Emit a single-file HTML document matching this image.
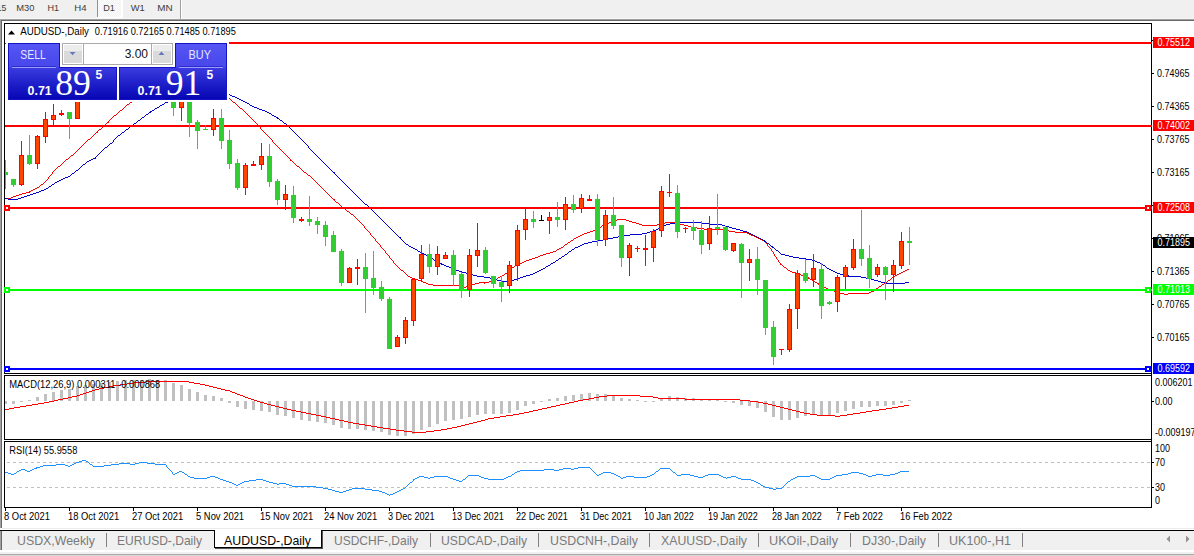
<!DOCTYPE html>
<html lang="en"><head><meta charset="utf-8"><title>AUDUSD-,Daily</title>
<style>
html,body{margin:0;padding:0;background:#fff;overflow:hidden}
body{width:1194px;height:556px;position:relative;font-family:"Liberation Sans", sans-serif;}
svg{position:absolute;left:0;top:0;display:block;font-family:"Liberation Sans", sans-serif;}
</style></head><body>
<svg width="1194" height="556" viewBox="0 0 1194 556" shape-rendering="crispEdges">
<defs>
<clipPath id="cm"><rect x="5" y="24" width="1146" height="349"/></clipPath>
<clipPath id="cd"><rect x="5" y="376" width="1146" height="63"/></clipPath>
<clipPath id="cr"><rect x="5" y="442" width="1146" height="65"/></clipPath>
<linearGradient id="gb" x1="0" y1="0" x2="0" y2="1"><stop offset="0" stop-color="#3a3ae0"/><stop offset="1" stop-color="#0606b4"/></linearGradient>
<linearGradient id="gt" x1="0" y1="0" x2="0" y2="1"><stop offset="0" stop-color="#5656f6"/><stop offset="1" stop-color="#4646ea"/></linearGradient>
<linearGradient id="gs" x1="0" y1="0" x2="0" y2="1"><stop offset="0" stop-color="#f4f4f4"/><stop offset="0.5" stop-color="#dcdcdc"/><stop offset="1" stop-color="#cfcfcf"/></linearGradient>
<pattern id="chk" width="2" height="2" patternUnits="userSpaceOnUse"><rect width="2" height="2" fill="#f0f0f0"/><rect width="1" height="1" fill="#fff"/><rect x="1" y="1" width="1" height="1" fill="#fff"/></pattern>
</defs>
<g id="chrome">
<rect x="0" y="0" width="1194" height="19" fill="#f0f0f0"/>
<rect x="0" y="18" width="1194" height="1" fill="#f6f6f6"/>
<rect x="98" y="0" width="23" height="17" fill="url(#chk)"/>
<rect x="121" y="0" width="2" height="18" fill="#fff"/>
<rect x="97" y="17" width="26" height="1" fill="#fff"/>
<rect x="97" y="0" width="1" height="17" fill="#929292"/>
<rect x="180" y="0" width="1" height="19" fill="#a0a0a0"/>
<rect x="181" y="0" width="1" height="19" fill="#ffffff"/>
<rect x="0" y="19" width="1194" height="1" fill="#a0a0a0"/>
<rect x="0" y="20" width="1194" height="1" fill="#696969"/>
<rect x="0" y="19" width="1" height="531" fill="#a0a0a0"/>
<rect x="1" y="20" width="1" height="530" fill="#696969"/>
<rect x="2" y="528" width="1192" height="1" fill="#ececec"/>
<rect x="2" y="531" width="1192" height="19" fill="#f0f0f0"/>
<rect x="0" y="550" width="1194" height="2" fill="#ffffff"/>
<rect x="0" y="552" width="1194" height="2" fill="#f0f0f0"/>
<rect x="0" y="554" width="1194" height="1" fill="#aaaaaa"/>
<rect x="0" y="555" width="1194" height="1" fill="#d8d8d8"/>
<rect x="0" y="528" width="2" height="2" fill="#fff"/>
<rect x="0" y="530" width="1194" height="1" fill="#000"/>
<rect x="214" y="529" width="108" height="19" fill="#ffffff"/>
<rect x="214" y="530" width="1" height="18" fill="#000"/>
<rect x="321" y="530" width="1" height="18" fill="#000"/>
<rect x="322" y="531" width="1" height="18" fill="#555"/>
<rect x="214" y="547" width="108" height="1" fill="#000"/>
<rect x="215" y="548" width="108" height="1" fill="#555"/>
</g>
<g id="toolbar-text" shape-rendering="auto">
<text x="6.3" y="10.7" font-size="9.6" fill="#3c3c3c" textLength="9.6" lengthAdjust="spacingAndGlyphs" text-anchor="end">15</text>
<text x="16.2" y="10.7" font-size="9.6" fill="#3c3c3c" textLength="18.2" lengthAdjust="spacingAndGlyphs">M30</text>
<text x="47.4" y="10.7" font-size="9.6" fill="#3c3c3c" textLength="11.6" lengthAdjust="spacingAndGlyphs">H1</text>
<text x="74.3" y="10.7" font-size="9.6" fill="#3c3c3c" textLength="12.3" lengthAdjust="spacingAndGlyphs">H4</text>
<text x="103.3" y="10.7" font-size="9.6" fill="#3c3c3c" textLength="11.6" lengthAdjust="spacingAndGlyphs">D1</text>
<text x="130.8" y="10.7" font-size="9.6" fill="#3c3c3c" textLength="14" lengthAdjust="spacingAndGlyphs">W1</text>
<text x="157.2" y="10.7" font-size="9.6" fill="#3c3c3c" textLength="15.4" lengthAdjust="spacingAndGlyphs">MN</text>
</g>
<g id="tabs" shape-rendering="auto">
<text x="17" y="545" font-size="13" fill="#7a7a7a" textLength="78" lengthAdjust="spacingAndGlyphs">USDX,Weekly</text>
<text x="117" y="545" font-size="13" fill="#7a7a7a" textLength="85" lengthAdjust="spacingAndGlyphs">EURUSD-,Daily</text>
<text x="334" y="545" font-size="13" fill="#7a7a7a" textLength="84" lengthAdjust="spacingAndGlyphs">USDCHF-,Daily</text>
<text x="441" y="545" font-size="13" fill="#7a7a7a" textLength="86" lengthAdjust="spacingAndGlyphs">USDCAD-,Daily</text>
<text x="550" y="545" font-size="13" fill="#7a7a7a" textLength="88" lengthAdjust="spacingAndGlyphs">USDCNH-,Daily</text>
<text x="661" y="545" font-size="13" fill="#7a7a7a" textLength="86" lengthAdjust="spacingAndGlyphs">XAUUSD-,Daily</text>
<text x="769" y="545" font-size="13" fill="#7a7a7a" textLength="69" lengthAdjust="spacingAndGlyphs">UKOil-,Daily</text>
<text x="862" y="545" font-size="13" fill="#7a7a7a" textLength="64" lengthAdjust="spacingAndGlyphs">DJ30-,Daily</text>
<text x="949" y="545" font-size="13" fill="#7a7a7a" textLength="62" lengthAdjust="spacingAndGlyphs">UK100-,H1</text>
<text x="224" y="545" font-size="13" fill="#000" textLength="87" lengthAdjust="spacingAndGlyphs">AUDUSD-,Daily</text>
</g>
<rect x="106" y="533" width="1" height="14" fill="#808080"/>
<rect x="430" y="533" width="1" height="14" fill="#808080"/>
<rect x="538" y="533" width="1" height="14" fill="#808080"/>
<rect x="649" y="533" width="1" height="14" fill="#808080"/>
<rect x="758" y="533" width="1" height="14" fill="#808080"/>
<rect x="850" y="533" width="1" height="14" fill="#808080"/>
<rect x="938" y="533" width="1" height="14" fill="#808080"/>
<rect x="1022" y="533" width="1" height="14" fill="#808080"/>
<path d="M1170 535.5 L1170 542.5 L1166.5 539 Z" fill="#909090" shape-rendering="auto"/>
<path d="M1186 535.5 L1186 542.5 L1189.5 539 Z" fill="#909090" shape-rendering="auto"/>
<g id="frames">
<rect x="4" y="23" width="1148" height="1" fill="#000"/>
<rect x="4" y="373" width="1148" height="1" fill="#000"/>
<rect x="4" y="23" width="1" height="351" fill="#000"/>
<rect x="1151" y="23" width="1" height="351" fill="#000"/>
<rect x="4" y="375" width="1148" height="1" fill="#000"/>
<rect x="4" y="439" width="1148" height="1" fill="#000"/>
<rect x="4" y="375" width="1" height="65" fill="#000"/>
<rect x="1151" y="375" width="1" height="65" fill="#000"/>
<rect x="4" y="441" width="1148" height="1" fill="#000"/>
<rect x="4" y="507" width="1148" height="1" fill="#000"/>
<rect x="4" y="441" width="1" height="67" fill="#000"/>
<rect x="1151" y="441" width="1" height="67" fill="#000"/>
<rect x="1151" y="373" width="1" height="3" fill="#000"/>
<rect x="1151" y="439" width="1" height="3" fill="#000"/>
</g>
<g id="main" clip-path="url(#cm)">
<path d="M186 72h6v1h-6zM183 73h3v1h-3zM192 73h3v1h-3zM179 74h4v1h-4zM195 74h2v1h-2zM175 75h4v1h-4zM197 75h3v1h-3zM171 76h4v1h-4zM200 76h2v1h-2zM168 77h3v1h-3zM202 77h3v1h-3zM164 78h4v1h-4zM205 78h2v1h-2zM160 79h4v1h-4zM207 79h3v1h-3zM159 80h2v1h-2zM210 80h1v1h-1zM157 81h2v1h-2zM211 81h1v1h-1zM156 82h1v1h-1zM212 82h1v1h-1zM154 83h2v1h-2zM213 83h1v1h-1zM153 84h1v1h-1zM214 84h1v1h-1zM151 85h2v1h-2zM215 85h1v1h-1zM150 86h1v1h-1zM216 86h1v1h-1zM149 87h1v1h-1zM217 87h1v1h-1zM147 88h2v1h-2zM218 88h1v1h-1zM146 89h1v1h-1zM219 89h1v1h-1zM144 90h2v1h-2zM220 90h1v1h-1zM143 91h1v1h-1zM221 91h1v1h-1zM141 92h2v1h-2zM222 92h1v1h-1zM140 93h1v1h-1zM223 93h1v1h-1zM139 94h2v1h-2zM224 94h1v1h-1zM138 95h1v1h-1zM225 95h2v1h-2zM137 96h1v1h-1zM227 96h1v1h-1zM136 97h1v1h-1zM228 97h1v1h-1zM134 98h2v1h-2zM229 98h1v1h-1zM133 99h1v1h-1zM230 99h1v1h-1zM132 100h1v1h-1zM231 100h1v1h-1zM131 101h1v1h-1zM232 101h1v1h-1zM130 102h2v1h-2zM233 102h2v1h-2zM129 103h1v1h-1zM235 103h1v1h-1zM127 104h2v1h-2zM236 104h1v1h-1zM126 105h1v1h-1zM237 105h1v1h-1zM125 106h1v1h-1zM238 106h1v1h-1zM124 107h1v1h-1zM239 107h1v1h-1zM123 108h1v1h-1zM240 108h2v1h-2zM122 109h1v1h-1zM242 109h1v1h-1zM120 110h2v1h-2zM243 110h1v1h-1zM119 111h1v1h-1zM244 111h1v1h-1zM118 112h1v1h-1zM245 112h1v1h-1zM117 113h1v1h-1zM246 113h1v1h-1zM116 114h1v1h-1zM247 114h1v1h-1zM114 115h2v1h-2zM248 115h1v1h-1zM113 116h1v1h-1zM249 116h1v1h-1zM112 117h1v1h-1zM250 117h1v1h-1zM111 118h1v1h-1zM251 118h1v1h-1zM110 119h1v1h-1zM252 119h1v1h-1zM109 120h1v1h-1zM253 120h1v1h-1zM108 121h1v1h-1zM254 121h1v1h-1zM107 122h2v1h-2zM255 122h1v1h-1zM106 123h1v1h-1zM256 123h1v1h-1zM105 124h1v1h-1zM257 124h1v1h-1zM104 125h1v1h-1zM258 125h1v1h-1zM103 126h1v1h-1zM259 126h1v1h-1zM102 127h1v1h-1zM260 127h1v1h-1zM101 128h1v1h-1zM260 128h1v1h-1zM99 129h2v1h-2zM261 129h1v1h-1zM98 130h1v1h-1zM262 130h1v1h-1zM97 131h1v1h-1zM263 131h1v1h-1zM96 132h2v1h-2zM264 132h1v1h-1zM95 133h1v1h-1zM265 133h1v1h-1zM94 134h1v1h-1zM266 134h1v1h-1zM93 135h1v1h-1zM267 135h1v1h-1zM92 136h1v1h-1zM268 136h1v1h-1zM91 137h1v1h-1zM269 137h1v1h-1zM90 138h1v1h-1zM270 138h1v1h-1zM88 139h2v1h-2zM271 139h1v1h-1zM87 140h1v1h-1zM272 140h1v1h-1zM86 141h1v1h-1zM272 141h1v1h-1zM85 142h1v1h-1zM273 142h1v1h-1zM84 143h1v1h-1zM274 143h1v1h-1zM83 144h1v1h-1zM275 144h1v1h-1zM82 145h1v1h-1zM276 145h1v1h-1zM81 146h1v1h-1zM277 146h1v1h-1zM80 147h1v1h-1zM278 147h1v1h-1zM79 148h1v1h-1zM279 148h1v1h-1zM78 149h1v1h-1zM280 149h1v1h-1zM77 150h1v1h-1zM281 150h1v1h-1zM76 151h1v1h-1zM282 151h1v1h-1zM75 152h1v1h-1zM283 152h1v1h-1zM74 153h1v1h-1zM284 153h1v1h-1zM73 154h1v1h-1zM285 154h1v1h-1zM71 155h2v1h-2zM286 155h1v1h-1zM70 156h1v1h-1zM287 156h1v1h-1zM69 157h1v1h-1zM288 157h1v1h-1zM68 158h1v1h-1zM289 158h1v1h-1zM66 159h2v1h-2zM290 159h1v1h-1zM65 160h1v1h-1zM290 160h2v1h-2zM64 161h1v1h-1zM292 161h1v1h-1zM63 162h1v1h-1zM293 162h1v1h-1zM62 163h1v1h-1zM294 163h1v1h-1zM61 164h1v1h-1zM295 164h1v1h-1zM60 165h1v1h-1zM296 165h1v1h-1zM58 166h2v1h-2zM297 166h2v1h-2zM57 167h1v1h-1zM299 167h1v1h-1zM56 168h1v1h-1zM300 168h1v1h-1zM55 169h1v1h-1zM301 169h1v1h-1zM54 170h1v1h-1zM302 170h1v1h-1zM53 171h1v1h-1zM303 171h1v1h-1zM52 172h1v1h-1zM304 172h2v1h-2zM52 173h1v1h-1zM306 173h1v1h-1zM51 174h1v1h-1zM307 174h1v1h-1zM50 175h1v1h-1zM308 175h2v1h-2zM49 176h1v1h-1zM310 176h1v1h-1zM48 177h1v1h-1zM311 177h1v1h-1zM48 178h1v1h-1zM312 178h1v1h-1zM47 179h1v1h-1zM313 179h1v1h-1zM46 180h1v1h-1zM314 180h1v1h-1zM45 181h1v1h-1zM315 181h1v1h-1zM44 182h1v1h-1zM316 182h1v1h-1zM43 183h1v1h-1zM317 183h1v1h-1zM41 184h2v1h-2zM318 184h1v1h-1zM40 185h1v1h-1zM319 185h1v1h-1zM39 186h1v1h-1zM320 186h1v1h-1zM37 187h2v1h-2zM321 187h1v1h-1zM35 188h2v1h-2zM322 188h1v1h-1zM33 189h2v1h-2zM323 189h1v1h-1zM31 190h2v1h-2zM324 190h1v1h-1zM29 191h2v1h-2zM325 191h1v1h-1zM26 192h4v1h-4zM326 192h1v1h-1zM22 193h4v1h-4zM327 193h1v1h-1zM19 194h3v1h-3zM328 194h1v1h-1zM16 195h3v1h-3zM329 195h1v1h-1zM13 196h3v1h-3zM330 196h1v1h-1zM11 197h2v1h-2zM331 197h1v1h-1zM5 198h6v1h-6zM332 198h1v1h-1zM333 199h2v1h-2zM334 200h1v1h-1zM335 201h1v1h-1zM336 202h2v1h-2zM338 203h1v1h-1zM339 204h1v1h-1zM340 205h1v1h-1zM341 206h1v1h-1zM342 207h1v1h-1zM343 208h2v1h-2zM345 209h1v1h-1zM346 210h1v1h-1zM347 211h2v1h-2zM349 212h1v1h-1zM350 213h1v1h-1zM351 214h2v1h-2zM353 215h1v1h-1zM354 216h1v1h-1zM355 217h1v1h-1zM356 218h1v1h-1zM357 219h1v1h-1zM617 219h9v1h-9zM358 220h1v1h-1zM614 220h3v1h-3zM626 220h3v1h-3zM359 221h1v1h-1zM612 221h2v1h-2zM629 221h3v1h-3zM360 222h1v1h-1zM609 222h3v1h-3zM632 222h4v1h-4zM665 222h10v1h-10zM361 223h1v1h-1zM607 223h2v1h-2zM636 223h3v1h-3zM661 223h4v1h-4zM675 223h5v1h-5zM362 224h1v1h-1zM605 224h2v1h-2zM639 224h3v1h-3zM657 224h4v1h-4zM680 224h4v1h-4zM363 225h1v1h-1zM602 225h3v1h-3zM642 225h15v1h-15zM684 225h4v1h-4zM364 226h1v1h-1zM601 226h1v1h-1zM688 226h3v1h-3zM364 227h1v1h-1zM599 227h2v1h-2zM691 227h6v1h-6zM365 228h1v1h-1zM597 228h2v1h-2zM697 228h7v1h-7zM366 229h1v1h-1zM595 229h2v1h-2zM704 229h21v1h-21zM367 230h1v1h-1zM593 230h2v1h-2zM725 230h4v1h-4zM368 231h1v1h-1zM590 231h3v1h-3zM729 231h6v1h-6zM369 232h1v1h-1zM587 232h3v1h-3zM735 232h12v1h-12zM370 233h1v1h-1zM584 233h3v1h-3zM747 233h2v1h-2zM370 234h1v1h-1zM582 234h2v1h-2zM749 234h2v1h-2zM371 235h1v1h-1zM580 235h2v1h-2zM751 235h3v1h-3zM372 236h1v1h-1zM578 236h2v1h-2zM754 236h2v1h-2zM373 237h1v1h-1zM576 237h2v1h-2zM756 237h2v1h-2zM374 238h1v1h-1zM574 238h2v1h-2zM758 238h2v1h-2zM375 239h1v1h-1zM573 239h1v1h-1zM760 239h2v1h-2zM375 240h1v1h-1zM571 240h2v1h-2zM762 240h3v1h-3zM376 241h1v1h-1zM570 241h1v1h-1zM764 241h1v1h-1zM377 242h1v1h-1zM568 242h2v1h-2zM765 242h1v1h-1zM378 243h1v1h-1zM567 243h1v1h-1zM766 243h1v1h-1zM379 244h1v1h-1zM565 244h2v1h-2zM767 244h1v1h-1zM380 245h1v1h-1zM564 245h1v1h-1zM767 245h1v1h-1zM380 246h1v1h-1zM563 246h1v1h-1zM768 246h1v1h-1zM381 247h1v1h-1zM561 247h2v1h-2zM769 247h1v1h-1zM382 248h1v1h-1zM559 248h2v1h-2zM770 248h1v1h-1zM383 249h1v1h-1zM557 249h2v1h-2zM771 249h1v1h-1zM384 250h1v1h-1zM556 250h1v1h-1zM771 250h1v1h-1zM385 251h1v1h-1zM553 251h3v1h-3zM772 251h1v1h-1zM385 252h1v1h-1zM550 252h3v1h-3zM773 252h1v1h-1zM386 253h1v1h-1zM546 253h4v1h-4zM773 253h1v1h-1zM387 254h1v1h-1zM543 254h3v1h-3zM774 254h1v1h-1zM388 255h1v1h-1zM540 255h3v1h-3zM774 255h1v1h-1zM389 256h1v1h-1zM538 256h2v1h-2zM775 256h1v1h-1zM389 257h1v1h-1zM535 257h3v1h-3zM776 257h1v1h-1zM390 258h1v1h-1zM532 258h3v1h-3zM776 258h1v1h-1zM391 259h1v1h-1zM529 259h3v1h-3zM777 259h1v1h-1zM392 260h1v1h-1zM526 260h3v1h-3zM778 260h1v1h-1zM393 261h1v1h-1zM524 261h2v1h-2zM778 261h1v1h-1zM393 262h1v1h-1zM522 262h2v1h-2zM779 262h1v1h-1zM394 263h1v1h-1zM519 263h3v1h-3zM780 263h1v1h-1zM395 264h1v1h-1zM517 264h2v1h-2zM780 264h2v1h-2zM396 265h1v1h-1zM515 265h2v1h-2zM782 265h1v1h-1zM397 266h1v1h-1zM514 266h1v1h-1zM783 266h1v1h-1zM398 267h1v1h-1zM512 267h2v1h-2zM784 267h2v1h-2zM399 268h1v1h-1zM511 268h1v1h-1zM786 268h1v1h-1zM400 269h1v1h-1zM510 269h1v1h-1zM787 269h1v1h-1zM907 269h2v1h-2zM401 270h2v1h-2zM509 270h1v1h-1zM788 270h2v1h-2zM905 270h2v1h-2zM403 271h1v1h-1zM508 271h1v1h-1zM790 271h2v1h-2zM903 271h2v1h-2zM404 272h1v1h-1zM507 272h1v1h-1zM792 272h4v1h-4zM901 272h2v1h-2zM405 273h1v1h-1zM505 273h2v1h-2zM796 273h3v1h-3zM899 273h2v1h-2zM406 274h1v1h-1zM504 274h1v1h-1zM799 274h2v1h-2zM897 274h2v1h-2zM407 275h1v1h-1zM502 275h2v1h-2zM801 275h3v1h-3zM895 275h2v1h-2zM408 276h2v1h-2zM500 276h2v1h-2zM804 276h2v1h-2zM893 276h2v1h-2zM410 277h2v1h-2zM498 277h2v1h-2zM806 277h3v1h-3zM892 277h1v1h-1zM412 278h3v1h-3zM497 278h1v1h-1zM808 278h2v1h-2zM891 278h1v1h-1zM414 279h4v1h-4zM494 279h3v1h-3zM810 279h2v1h-2zM890 279h1v1h-1zM418 280h3v1h-3zM492 280h2v1h-2zM812 280h1v1h-1zM888 280h2v1h-2zM421 281h2v1h-2zM489 281h3v1h-3zM813 281h2v1h-2zM887 281h1v1h-1zM423 282h3v1h-3zM479 282h10v1h-10zM815 282h2v1h-2zM885 282h2v1h-2zM426 283h2v1h-2zM475 283h4v1h-4zM484 283h1v1h-1zM817 283h2v1h-2zM884 283h1v1h-1zM428 284h5v1h-5zM472 284h3v1h-3zM818 284h2v1h-2zM882 284h2v1h-2zM433 285h26v1h-26zM469 285h3v1h-3zM820 285h2v1h-2zM881 285h1v1h-1zM459 286h5v1h-5zM466 286h3v1h-3zM822 286h2v1h-2zM879 286h2v1h-2zM464 287h2v1h-2zM824 287h2v1h-2zM878 287h1v1h-1zM826 288h2v1h-2zM876 288h2v1h-2zM828 289h3v1h-3zM875 289h1v1h-1zM831 290h3v1h-3zM873 290h2v1h-2zM834 291h2v1h-2zM871 291h3v1h-3zM836 292h3v1h-3zM869 292h2v1h-2zM839 293h5v1h-5zM848 293h21v1h-21zM844 294h4v1h-4z" fill="#ff0000"/>
<path d="M197 88h18v1h-18zM193 89h4v1h-4zM215 89h3v1h-3zM190 90h3v1h-3zM218 90h2v1h-2zM187 91h3v1h-3zM220 91h3v1h-3zM183 92h4v1h-4zM223 92h2v1h-2zM180 93h3v1h-3zM225 93h3v1h-3zM178 94h3v1h-3zM228 94h2v1h-2zM177 95h1v1h-1zM230 95h2v1h-2zM175 96h2v1h-2zM232 96h3v1h-3zM174 97h1v1h-1zM235 97h2v1h-2zM172 98h2v1h-2zM237 98h2v1h-2zM170 99h2v1h-2zM239 99h2v1h-2zM169 100h1v1h-1zM241 100h2v1h-2zM167 101h2v1h-2zM243 101h2v1h-2zM165 102h3v1h-3zM245 102h2v1h-2zM164 103h1v1h-1zM247 103h2v1h-2zM162 104h2v1h-2zM249 104h1v1h-1zM160 105h2v1h-2zM250 105h2v1h-2zM159 106h1v1h-1zM252 106h2v1h-2zM157 107h2v1h-2zM254 107h3v1h-3zM155 108h2v1h-2zM257 108h2v1h-2zM154 109h1v1h-1zM259 109h3v1h-3zM152 110h2v1h-2zM262 110h3v1h-3zM150 111h2v1h-2zM265 111h2v1h-2zM149 112h2v1h-2zM267 112h2v1h-2zM148 113h1v1h-1zM269 113h2v1h-2zM146 114h2v1h-2zM271 114h1v1h-1zM145 115h1v1h-1zM272 115h2v1h-2zM144 116h1v1h-1zM274 116h2v1h-2zM142 117h2v1h-2zM276 117h2v1h-2zM141 118h1v1h-1zM277 118h2v1h-2zM140 119h1v1h-1zM279 119h1v1h-1zM138 120h2v1h-2zM280 120h2v1h-2zM137 121h1v1h-1zM282 121h1v1h-1zM136 122h1v1h-1zM283 122h1v1h-1zM134 123h2v1h-2zM284 123h2v1h-2zM133 124h1v1h-1zM286 124h1v1h-1zM132 125h1v1h-1zM287 125h1v1h-1zM130 126h2v1h-2zM287 126h2v1h-2zM129 127h1v1h-1zM289 127h1v1h-1zM128 128h1v1h-1zM290 128h1v1h-1zM126 129h2v1h-2zM291 129h1v1h-1zM125 130h1v1h-1zM292 130h1v1h-1zM124 131h1v1h-1zM293 131h1v1h-1zM122 132h2v1h-2zM294 132h1v1h-1zM121 133h1v1h-1zM295 133h1v1h-1zM120 134h1v1h-1zM296 134h1v1h-1zM118 135h2v1h-2zM297 135h1v1h-1zM117 136h1v1h-1zM298 136h1v1h-1zM116 137h1v1h-1zM299 137h1v1h-1zM115 138h1v1h-1zM300 138h1v1h-1zM114 139h1v1h-1zM301 139h1v1h-1zM113 140h1v1h-1zM302 140h1v1h-1zM113 141h1v1h-1zM303 141h1v1h-1zM112 142h1v1h-1zM304 142h1v1h-1zM110 143h2v1h-2zM305 143h1v1h-1zM109 144h1v1h-1zM306 144h1v1h-1zM108 145h1v1h-1zM307 145h1v1h-1zM107 146h1v1h-1zM308 146h1v1h-1zM105 147h2v1h-2zM308 147h1v1h-1zM104 148h1v1h-1zM309 148h1v1h-1zM103 149h1v1h-1zM310 149h1v1h-1zM102 150h1v1h-1zM311 150h1v1h-1zM101 151h1v1h-1zM312 151h1v1h-1zM100 152h1v1h-1zM313 152h1v1h-1zM99 153h1v1h-1zM314 153h1v1h-1zM98 154h1v1h-1zM315 154h1v1h-1zM97 155h1v1h-1zM316 155h1v1h-1zM96 156h1v1h-1zM317 156h1v1h-1zM95 157h1v1h-1zM318 157h1v1h-1zM93 158h3v1h-3zM319 158h1v1h-1zM91 159h2v1h-2zM320 159h1v1h-1zM89 160h2v1h-2zM321 160h1v1h-1zM87 161h2v1h-2zM322 161h1v1h-1zM86 162h1v1h-1zM323 162h1v1h-1zM85 163h1v1h-1zM324 163h1v1h-1zM83 164h2v1h-2zM325 164h1v1h-1zM82 165h1v1h-1zM326 165h1v1h-1zM81 166h1v1h-1zM327 166h1v1h-1zM80 167h1v1h-1zM328 167h1v1h-1zM79 168h1v1h-1zM329 168h1v1h-1zM78 169h1v1h-1zM330 169h1v1h-1zM76 170h2v1h-2zM331 170h1v1h-1zM75 171h1v1h-1zM332 171h1v1h-1zM74 172h1v1h-1zM333 172h2v1h-2zM72 173h2v1h-2zM334 173h1v1h-1zM71 174h1v1h-1zM335 174h1v1h-1zM70 175h1v1h-1zM336 175h1v1h-1zM68 176h2v1h-2zM337 176h1v1h-1zM65 177h3v1h-3zM338 177h1v1h-1zM63 178h2v1h-2zM339 178h1v1h-1zM61 179h2v1h-2zM340 179h1v1h-1zM59 180h2v1h-2zM341 180h1v1h-1zM57 181h2v1h-2zM342 181h1v1h-1zM55 182h2v1h-2zM343 182h1v1h-1zM54 183h1v1h-1zM344 183h1v1h-1zM52 184h2v1h-2zM345 184h1v1h-1zM51 185h1v1h-1zM346 185h1v1h-1zM49 186h2v1h-2zM347 186h1v1h-1zM48 187h1v1h-1zM348 187h1v1h-1zM46 188h2v1h-2zM349 188h1v1h-1zM44 189h2v1h-2zM350 189h1v1h-1zM41 190h3v1h-3zM351 190h1v1h-1zM39 191h2v1h-2zM352 191h1v1h-1zM36 192h3v1h-3zM353 192h1v1h-1zM33 193h3v1h-3zM354 193h1v1h-1zM30 194h3v1h-3zM355 194h1v1h-1zM27 195h3v1h-3zM356 195h1v1h-1zM24 196h3v1h-3zM357 196h1v1h-1zM21 197h3v1h-3zM358 197h1v1h-1zM5 198h3v1h-3zM18 198h3v1h-3zM359 198h1v1h-1zM8 199h10v1h-10zM360 199h1v1h-1zM361 200h1v1h-1zM362 201h1v1h-1zM363 202h1v1h-1zM364 203h1v1h-1zM365 204h2v1h-2zM367 205h1v1h-1zM368 206h1v1h-1zM369 207h1v1h-1zM370 208h1v1h-1zM371 209h1v1h-1zM372 210h1v1h-1zM373 211h1v1h-1zM374 212h1v1h-1zM375 213h1v1h-1zM376 214h1v1h-1zM377 215h1v1h-1zM378 216h1v1h-1zM379 217h1v1h-1zM380 218h1v1h-1zM381 219h1v1h-1zM382 220h1v1h-1zM383 221h1v1h-1zM384 222h1v1h-1zM675 222h26v1h-26zM385 223h1v1h-1zM670 223h5v1h-5zM701 223h9v1h-9zM386 224h1v1h-1zM666 224h4v1h-4zM710 224h12v1h-12zM387 225h1v1h-1zM664 225h2v1h-2zM722 225h3v1h-3zM388 226h1v1h-1zM662 226h2v1h-2zM725 226h4v1h-4zM389 227h1v1h-1zM660 227h2v1h-2zM729 227h3v1h-3zM390 228h1v1h-1zM658 228h2v1h-2zM732 228h4v1h-4zM391 229h1v1h-1zM656 229h2v1h-2zM736 229h4v1h-4zM392 230h1v1h-1zM653 230h3v1h-3zM740 230h3v1h-3zM393 231h1v1h-1zM650 231h3v1h-3zM743 231h4v1h-4zM394 232h1v1h-1zM647 232h3v1h-3zM747 232h2v1h-2zM395 233h1v1h-1zM642 233h5v1h-5zM749 233h2v1h-2zM396 234h1v1h-1zM630 234h12v1h-12zM751 234h2v1h-2zM397 235h1v1h-1zM623 235h7v1h-7zM753 235h2v1h-2zM398 236h1v1h-1zM618 236h5v1h-5zM755 236h2v1h-2zM399 237h2v1h-2zM613 237h5v1h-5zM757 237h2v1h-2zM400 238h1v1h-1zM608 238h5v1h-5zM759 238h2v1h-2zM401 239h1v1h-1zM603 239h5v1h-5zM761 239h2v1h-2zM402 240h1v1h-1zM597 240h6v1h-6zM763 240h2v1h-2zM403 241h1v1h-1zM592 241h5v1h-5zM764 241h2v1h-2zM404 242h1v1h-1zM588 242h4v1h-4zM766 242h1v1h-1zM405 243h1v1h-1zM584 243h4v1h-4zM767 243h2v1h-2zM406 244h2v1h-2zM582 244h2v1h-2zM769 244h1v1h-1zM408 245h1v1h-1zM580 245h2v1h-2zM770 245h1v1h-1zM409 246h2v1h-2zM578 246h2v1h-2zM771 246h2v1h-2zM411 247h2v1h-2zM575 247h3v1h-3zM772 247h2v1h-2zM413 248h2v1h-2zM574 248h1v1h-1zM774 248h1v1h-1zM415 249h2v1h-2zM572 249h2v1h-2zM775 249h1v1h-1zM417 250h1v1h-1zM571 250h1v1h-1zM776 250h2v1h-2zM418 251h2v1h-2zM569 251h2v1h-2zM778 251h1v1h-1zM420 252h2v1h-2zM568 252h1v1h-1zM779 252h1v1h-1zM422 253h2v1h-2zM567 253h1v1h-1zM780 253h1v1h-1zM424 254h2v1h-2zM565 254h2v1h-2zM781 254h4v1h-4zM426 255h1v1h-1zM564 255h1v1h-1zM785 255h4v1h-4zM427 256h2v1h-2zM562 256h2v1h-2zM789 256h4v1h-4zM429 257h2v1h-2zM561 257h1v1h-1zM793 257h6v1h-6zM431 258h2v1h-2zM559 258h2v1h-2zM799 258h7v1h-7zM433 259h1v1h-1zM558 259h1v1h-1zM805 259h7v1h-7zM434 260h2v1h-2zM556 260h2v1h-2zM812 260h3v1h-3zM436 261h2v1h-2zM555 261h1v1h-1zM815 261h2v1h-2zM438 262h2v1h-2zM553 262h2v1h-2zM817 262h3v1h-3zM440 263h2v1h-2zM551 263h2v1h-2zM820 263h2v1h-2zM441 264h3v1h-3zM550 264h1v1h-1zM822 264h1v1h-1zM444 265h2v1h-2zM548 265h2v1h-2zM823 265h2v1h-2zM446 266h3v1h-3zM546 266h2v1h-2zM825 266h1v1h-1zM449 267h2v1h-2zM545 267h1v1h-1zM826 267h1v1h-1zM451 268h3v1h-3zM543 268h2v1h-2zM827 268h2v1h-2zM454 269h2v1h-2zM541 269h2v1h-2zM829 269h2v1h-2zM456 270h3v1h-3zM539 270h2v1h-2zM831 270h2v1h-2zM459 271h3v1h-3zM537 271h2v1h-2zM833 271h2v1h-2zM462 272h4v1h-4zM535 272h2v1h-2zM835 272h2v1h-2zM466 273h3v1h-3zM533 273h2v1h-2zM837 273h3v1h-3zM469 274h4v1h-4zM530 274h3v1h-3zM840 274h4v1h-4zM473 275h4v1h-4zM526 275h4v1h-4zM844 275h5v1h-5zM477 276h7v1h-7zM523 276h3v1h-3zM848 276h13v1h-13zM484 277h6v1h-6zM520 277h3v1h-3zM861 277h5v1h-5zM490 278h4v1h-4zM517 278h3v1h-3zM866 278h5v1h-5zM494 279h3v1h-3zM514 279h3v1h-3zM871 279h3v1h-3zM497 280h4v1h-4zM511 280h3v1h-3zM874 280h4v1h-4zM501 281h10v1h-10zM878 281h3v1h-3zM881 282h4v1h-4zM905 282h4v1h-4zM885 283h20v1h-20z" fill="#0000cd"/>
<rect x="5" y="42" width="1146" height="2" fill="#ff0000"/>
<rect x="5" y="125" width="1146" height="2" fill="#ff0000"/>
<rect x="5" y="207" width="1146" height="2" fill="#ff0000"/>
<rect x="5" y="289" width="1146" height="2" fill="#00ff00"/>
<rect x="5" y="368" width="1146" height="2" fill="#0000ff"/>
<g id="candles">
<rect x="5" y="160" width="1" height="29" fill="#32cd32"/>
<rect x="3" y="172" width="5" height="3" fill="#32cd32"/>
<rect x="13" y="179" width="1" height="8" fill="#32cd32"/>
<rect x="11" y="179" width="5" height="6" fill="#32cd32"/>
<rect x="21" y="141" width="1" height="45" fill="#ff0000"/>
<rect x="19" y="155" width="5" height="30" fill="#ff0000"/>
<rect x="20" y="156" width="3" height="28" fill="#ff4500"/>
<rect x="29" y="135" width="1" height="30" fill="#32cd32"/>
<rect x="27" y="155" width="5" height="9" fill="#32cd32"/>
<rect x="37" y="135" width="1" height="34" fill="#ff0000"/>
<rect x="35" y="136" width="5" height="28" fill="#ff0000"/>
<rect x="36" y="137" width="3" height="26" fill="#ff4500"/>
<rect x="45" y="112" width="1" height="31" fill="#ff0000"/>
<rect x="43" y="119" width="5" height="18" fill="#ff0000"/>
<rect x="44" y="120" width="3" height="16" fill="#ff4500"/>
<rect x="53" y="104" width="1" height="21" fill="#ff0000"/>
<rect x="51" y="115" width="5" height="5" fill="#ff0000"/>
<rect x="52" y="116" width="3" height="3" fill="#ff4500"/>
<rect x="69" y="112" width="1" height="27" fill="#32cd32"/>
<rect x="67" y="112" width="5" height="7" fill="#32cd32"/>
<rect x="77" y="95" width="1" height="24" fill="#ff0000"/>
<rect x="75" y="95" width="5" height="24" fill="#ff0000"/>
<rect x="76" y="96" width="3" height="22" fill="#ff4500"/>
<rect x="173" y="90" width="1" height="26" fill="#32cd32"/>
<rect x="171" y="95" width="5" height="13" fill="#32cd32"/>
<rect x="181" y="90" width="1" height="31" fill="#ff0000"/>
<rect x="179" y="95" width="5" height="13" fill="#ff0000"/>
<rect x="180" y="96" width="3" height="11" fill="#ff4500"/>
<rect x="189" y="90" width="1" height="47" fill="#32cd32"/>
<rect x="187" y="95" width="5" height="28" fill="#32cd32"/>
<rect x="197" y="120" width="1" height="29" fill="#32cd32"/>
<rect x="195" y="122" width="5" height="9" fill="#32cd32"/>
<rect x="213" y="109" width="1" height="27" fill="#ff0000"/>
<rect x="211" y="118" width="5" height="12" fill="#ff0000"/>
<rect x="212" y="119" width="3" height="10" fill="#ff4500"/>
<rect x="221" y="109" width="1" height="40" fill="#32cd32"/>
<rect x="219" y="118" width="5" height="23" fill="#32cd32"/>
<rect x="229" y="130" width="1" height="39" fill="#32cd32"/>
<rect x="227" y="140" width="5" height="24" fill="#32cd32"/>
<rect x="237" y="159" width="1" height="31" fill="#32cd32"/>
<rect x="235" y="163" width="5" height="25" fill="#32cd32"/>
<rect x="245" y="163" width="1" height="32" fill="#ff0000"/>
<rect x="243" y="165" width="5" height="23" fill="#ff0000"/>
<rect x="244" y="166" width="3" height="21" fill="#ff4500"/>
<rect x="261" y="143" width="1" height="27" fill="#ff0000"/>
<rect x="259" y="156" width="5" height="9" fill="#ff0000"/>
<rect x="260" y="157" width="3" height="7" fill="#ff4500"/>
<rect x="269" y="144" width="1" height="43" fill="#32cd32"/>
<rect x="267" y="156" width="5" height="26" fill="#32cd32"/>
<rect x="277" y="179" width="1" height="26" fill="#32cd32"/>
<rect x="275" y="181" width="5" height="19" fill="#32cd32"/>
<rect x="285" y="185" width="1" height="25" fill="#ff0000"/>
<rect x="283" y="194" width="5" height="6" fill="#ff0000"/>
<rect x="284" y="195" width="3" height="4" fill="#ff4500"/>
<rect x="293" y="186" width="1" height="37" fill="#32cd32"/>
<rect x="291" y="195" width="5" height="23" fill="#32cd32"/>
<rect x="309" y="196" width="1" height="30" fill="#32cd32"/>
<rect x="307" y="219" width="5" height="3" fill="#32cd32"/>
<rect x="317" y="217" width="1" height="17" fill="#32cd32"/>
<rect x="315" y="221" width="5" height="4" fill="#32cd32"/>
<rect x="325" y="221" width="1" height="25" fill="#32cd32"/>
<rect x="323" y="225" width="5" height="12" fill="#32cd32"/>
<rect x="333" y="231" width="1" height="21" fill="#32cd32"/>
<rect x="331" y="235" width="5" height="17" fill="#32cd32"/>
<rect x="341" y="249" width="1" height="37" fill="#32cd32"/>
<rect x="339" y="251" width="5" height="32" fill="#32cd32"/>
<rect x="349" y="267" width="1" height="16" fill="#ff0000"/>
<rect x="347" y="268" width="5" height="15" fill="#ff0000"/>
<rect x="348" y="269" width="3" height="13" fill="#ff4500"/>
<rect x="365" y="253" width="1" height="60" fill="#32cd32"/>
<rect x="363" y="267" width="5" height="12" fill="#32cd32"/>
<rect x="373" y="251" width="1" height="44" fill="#32cd32"/>
<rect x="371" y="278" width="5" height="10" fill="#32cd32"/>
<rect x="381" y="281" width="1" height="20" fill="#32cd32"/>
<rect x="379" y="287" width="5" height="12" fill="#32cd32"/>
<rect x="389" y="297" width="1" height="52" fill="#32cd32"/>
<rect x="387" y="299" width="5" height="50" fill="#32cd32"/>
<rect x="397" y="335" width="1" height="12" fill="#ff0000"/>
<rect x="395" y="337" width="5" height="10" fill="#ff0000"/>
<rect x="396" y="338" width="3" height="8" fill="#ff4500"/>
<rect x="405" y="317" width="1" height="27" fill="#ff0000"/>
<rect x="403" y="320" width="5" height="18" fill="#ff0000"/>
<rect x="404" y="321" width="3" height="16" fill="#ff4500"/>
<rect x="413" y="278" width="1" height="48" fill="#ff0000"/>
<rect x="411" y="279" width="5" height="42" fill="#ff0000"/>
<rect x="412" y="280" width="3" height="40" fill="#ff4500"/>
<rect x="421" y="245" width="1" height="37" fill="#ff0000"/>
<rect x="419" y="254" width="5" height="25" fill="#ff0000"/>
<rect x="420" y="255" width="3" height="23" fill="#ff4500"/>
<rect x="429" y="244" width="1" height="29" fill="#32cd32"/>
<rect x="427" y="254" width="5" height="13" fill="#32cd32"/>
<rect x="437" y="246" width="1" height="29" fill="#ff0000"/>
<rect x="435" y="254" width="5" height="13" fill="#ff0000"/>
<rect x="436" y="255" width="3" height="11" fill="#ff4500"/>
<rect x="445" y="252" width="1" height="7" fill="#ff0000"/>
<rect x="443" y="255" width="5" height="4" fill="#ff0000"/>
<rect x="444" y="256" width="3" height="2" fill="#ff4500"/>
<rect x="453" y="250" width="1" height="36" fill="#32cd32"/>
<rect x="451" y="255" width="5" height="20" fill="#32cd32"/>
<rect x="461" y="272" width="1" height="26" fill="#32cd32"/>
<rect x="459" y="274" width="5" height="16" fill="#32cd32"/>
<rect x="469" y="249" width="1" height="48" fill="#ff0000"/>
<rect x="467" y="255" width="5" height="35" fill="#ff0000"/>
<rect x="468" y="256" width="3" height="33" fill="#ff4500"/>
<rect x="477" y="223" width="1" height="44" fill="#ff0000"/>
<rect x="475" y="250" width="5" height="6" fill="#ff0000"/>
<rect x="476" y="251" width="3" height="4" fill="#ff4500"/>
<rect x="485" y="247" width="1" height="27" fill="#32cd32"/>
<rect x="483" y="250" width="5" height="23" fill="#32cd32"/>
<rect x="493" y="276" width="1" height="12" fill="#32cd32"/>
<rect x="491" y="276" width="5" height="8" fill="#32cd32"/>
<rect x="501" y="276" width="1" height="26" fill="#32cd32"/>
<rect x="499" y="282" width="5" height="5" fill="#32cd32"/>
<rect x="509" y="261" width="1" height="32" fill="#ff0000"/>
<rect x="507" y="265" width="5" height="21" fill="#ff0000"/>
<rect x="508" y="266" width="3" height="19" fill="#ff4500"/>
<rect x="517" y="225" width="1" height="56" fill="#ff0000"/>
<rect x="515" y="230" width="5" height="36" fill="#ff0000"/>
<rect x="516" y="231" width="3" height="34" fill="#ff4500"/>
<rect x="525" y="208" width="1" height="32" fill="#ff0000"/>
<rect x="523" y="219" width="5" height="11" fill="#ff0000"/>
<rect x="524" y="220" width="3" height="9" fill="#ff4500"/>
<rect x="533" y="211" width="1" height="17" fill="#32cd32"/>
<rect x="531" y="219" width="5" height="3" fill="#32cd32"/>
<rect x="549" y="212" width="1" height="22" fill="#ff0000"/>
<rect x="547" y="217" width="5" height="4" fill="#ff0000"/>
<rect x="548" y="218" width="3" height="2" fill="#ff4500"/>
<rect x="557" y="202" width="1" height="25" fill="#32cd32"/>
<rect x="555" y="217" width="5" height="3" fill="#32cd32"/>
<rect x="565" y="197" width="1" height="33" fill="#ff0000"/>
<rect x="563" y="204" width="5" height="16" fill="#ff0000"/>
<rect x="564" y="205" width="3" height="14" fill="#ff4500"/>
<rect x="573" y="195" width="1" height="18" fill="#32cd32"/>
<rect x="571" y="204" width="5" height="6" fill="#32cd32"/>
<rect x="581" y="194" width="1" height="19" fill="#ff0000"/>
<rect x="579" y="198" width="5" height="11" fill="#ff0000"/>
<rect x="580" y="199" width="3" height="9" fill="#ff4500"/>
<rect x="597" y="194" width="1" height="52" fill="#32cd32"/>
<rect x="595" y="199" width="5" height="41" fill="#32cd32"/>
<rect x="605" y="210" width="1" height="36" fill="#ff0000"/>
<rect x="603" y="215" width="5" height="25" fill="#ff0000"/>
<rect x="604" y="216" width="3" height="23" fill="#ff4500"/>
<rect x="613" y="197" width="1" height="32" fill="#32cd32"/>
<rect x="611" y="215" width="5" height="11" fill="#32cd32"/>
<rect x="621" y="225" width="1" height="42" fill="#32cd32"/>
<rect x="619" y="225" width="5" height="33" fill="#32cd32"/>
<rect x="629" y="243" width="1" height="33" fill="#ff0000"/>
<rect x="627" y="245" width="5" height="13" fill="#ff0000"/>
<rect x="628" y="246" width="3" height="11" fill="#ff4500"/>
<rect x="653" y="229" width="1" height="33" fill="#ff0000"/>
<rect x="651" y="231" width="5" height="17" fill="#ff0000"/>
<rect x="652" y="232" width="3" height="15" fill="#ff4500"/>
<rect x="661" y="186" width="1" height="51" fill="#ff0000"/>
<rect x="659" y="191" width="5" height="40" fill="#ff0000"/>
<rect x="660" y="192" width="3" height="38" fill="#ff4500"/>
<rect x="677" y="185" width="1" height="53" fill="#32cd32"/>
<rect x="675" y="193" width="5" height="39" fill="#32cd32"/>
<rect x="693" y="220" width="1" height="20" fill="#32cd32"/>
<rect x="691" y="227" width="5" height="4" fill="#32cd32"/>
<rect x="701" y="221" width="1" height="33" fill="#32cd32"/>
<rect x="699" y="230" width="5" height="15" fill="#32cd32"/>
<rect x="709" y="216" width="1" height="34" fill="#ff0000"/>
<rect x="707" y="228" width="5" height="16" fill="#ff0000"/>
<rect x="708" y="229" width="3" height="14" fill="#ff4500"/>
<rect x="717" y="194" width="1" height="41" fill="#32cd32"/>
<rect x="715" y="227" width="5" height="2" fill="#32cd32"/>
<rect x="725" y="226" width="1" height="25" fill="#32cd32"/>
<rect x="723" y="227" width="5" height="23" fill="#32cd32"/>
<rect x="733" y="243" width="1" height="9" fill="#ff0000"/>
<rect x="731" y="243" width="5" height="8" fill="#ff0000"/>
<rect x="732" y="244" width="3" height="6" fill="#ff4500"/>
<rect x="741" y="243" width="1" height="55" fill="#32cd32"/>
<rect x="739" y="244" width="5" height="19" fill="#32cd32"/>
<rect x="749" y="249" width="1" height="32" fill="#ff0000"/>
<rect x="747" y="259" width="5" height="4" fill="#ff0000"/>
<rect x="748" y="260" width="3" height="2" fill="#ff4500"/>
<rect x="757" y="247" width="1" height="48" fill="#32cd32"/>
<rect x="755" y="259" width="5" height="21" fill="#32cd32"/>
<rect x="765" y="280" width="1" height="55" fill="#32cd32"/>
<rect x="763" y="280" width="5" height="48" fill="#32cd32"/>
<rect x="773" y="321" width="1" height="44" fill="#32cd32"/>
<rect x="771" y="327" width="5" height="30" fill="#32cd32"/>
<rect x="789" y="304" width="1" height="48" fill="#ff0000"/>
<rect x="787" y="309" width="5" height="41" fill="#ff0000"/>
<rect x="788" y="310" width="3" height="39" fill="#ff4500"/>
<rect x="797" y="270" width="1" height="59" fill="#ff0000"/>
<rect x="795" y="273" width="5" height="36" fill="#ff0000"/>
<rect x="796" y="274" width="3" height="34" fill="#ff4500"/>
<rect x="805" y="259" width="1" height="24" fill="#32cd32"/>
<rect x="803" y="273" width="5" height="8" fill="#32cd32"/>
<rect x="813" y="254" width="1" height="33" fill="#ff0000"/>
<rect x="811" y="268" width="5" height="12" fill="#ff0000"/>
<rect x="812" y="269" width="3" height="10" fill="#ff4500"/>
<rect x="821" y="263" width="1" height="56" fill="#32cd32"/>
<rect x="819" y="269" width="5" height="37" fill="#32cd32"/>
<rect x="837" y="275" width="1" height="37" fill="#ff0000"/>
<rect x="835" y="277" width="5" height="25" fill="#ff0000"/>
<rect x="836" y="278" width="3" height="23" fill="#ff4500"/>
<rect x="845" y="265" width="1" height="24" fill="#ff0000"/>
<rect x="843" y="267" width="5" height="10" fill="#ff0000"/>
<rect x="844" y="268" width="3" height="8" fill="#ff4500"/>
<rect x="853" y="239" width="1" height="31" fill="#ff0000"/>
<rect x="851" y="249" width="5" height="19" fill="#ff0000"/>
<rect x="852" y="250" width="3" height="17" fill="#ff4500"/>
<rect x="861" y="210" width="1" height="56" fill="#32cd32"/>
<rect x="859" y="249" width="5" height="10" fill="#32cd32"/>
<rect x="869" y="245" width="1" height="43" fill="#32cd32"/>
<rect x="867" y="258" width="5" height="21" fill="#32cd32"/>
<rect x="877" y="264" width="1" height="13" fill="#ff0000"/>
<rect x="875" y="267" width="5" height="8" fill="#ff0000"/>
<rect x="876" y="268" width="3" height="6" fill="#ff4500"/>
<rect x="885" y="266" width="1" height="34" fill="#32cd32"/>
<rect x="883" y="267" width="5" height="8" fill="#32cd32"/>
<rect x="893" y="260" width="1" height="32" fill="#ff0000"/>
<rect x="891" y="265" width="5" height="10" fill="#ff0000"/>
<rect x="892" y="266" width="3" height="8" fill="#ff4500"/>
<rect x="901" y="232" width="1" height="37" fill="#ff0000"/>
<rect x="899" y="241" width="5" height="25" fill="#ff0000"/>
<rect x="900" y="242" width="3" height="23" fill="#ff4500"/>
<rect x="61" y="110" width="1" height="6" fill="#ff0000"/>
<rect x="59" y="113" width="5" height="2" fill="#ff0000"/>
<rect x="205" y="125" width="1" height="4" fill="#32cd32"/>
<rect x="203" y="129" width="5" height="1" fill="#32cd32"/>
<rect x="253" y="161" width="1" height="5" fill="#ff0000"/>
<rect x="251" y="164" width="5" height="2" fill="#ff0000"/>
<rect x="301" y="217" width="1" height="5" fill="#ff0000"/>
<rect x="299" y="219" width="5" height="2" fill="#ff0000"/>
<rect x="357" y="259" width="1" height="26" fill="#ff0000"/>
<rect x="355" y="267" width="5" height="2" fill="#ff0000"/>
<rect x="541" y="215" width="1" height="6" fill="#000000"/>
<rect x="539" y="220" width="5" height="1" fill="#000000"/>
<rect x="589" y="195" width="1" height="5" fill="#ff0000"/>
<rect x="587" y="199" width="5" height="2" fill="#ff0000"/>
<rect x="637" y="246" width="1" height="6" fill="#ff0000"/>
<rect x="635" y="248" width="5" height="1" fill="#ff0000"/>
<rect x="645" y="235" width="1" height="31" fill="#ff0000"/>
<rect x="643" y="248" width="5" height="2" fill="#ff0000"/>
<rect x="669" y="174" width="1" height="23" fill="#ff0000"/>
<rect x="667" y="192" width="5" height="1" fill="#ff0000"/>
<rect x="685" y="227" width="1" height="6" fill="#ff0000"/>
<rect x="683" y="228" width="5" height="1" fill="#ff0000"/>
<rect x="781" y="349" width="1" height="6" fill="#ff0000"/>
<rect x="779" y="349" width="5" height="1" fill="#ff0000"/>
<rect x="829" y="301" width="1" height="4" fill="#32cd32"/>
<rect x="827" y="302" width="5" height="2" fill="#32cd32"/>
<rect x="909" y="227" width="1" height="38" fill="#32cd32"/>
<rect x="907" y="241" width="5" height="2" fill="#32cd32"/>
</g>
</g>
<rect x="1151" y="42" width="1" height="2" fill="#ff0000"/>
<rect x="1151" y="125" width="1" height="2" fill="#ff0000"/>
<rect x="1151" y="207" width="1" height="2" fill="#ff0000"/>
<rect x="1151" y="289" width="1" height="2" fill="#00ff00"/>
<rect x="1151" y="368" width="1" height="2" fill="#0000ff"/>
<rect x="4" y="205" width="6" height="6" fill="#ff0000"/>
<rect x="6" y="207" width="2" height="2" fill="#fff"/>
<rect x="1145" y="205" width="6" height="6" fill="#ff0000"/>
<rect x="1147" y="207" width="2" height="2" fill="#fff"/>
<rect x="4" y="287" width="6" height="6" fill="#00ff00"/>
<rect x="6" y="289" width="2" height="2" fill="#fff"/>
<rect x="1145" y="287" width="6" height="6" fill="#00ff00"/>
<rect x="1147" y="289" width="2" height="2" fill="#fff"/>
<rect x="4" y="366" width="6" height="6" fill="#0000ff"/>
<rect x="6" y="368" width="2" height="2" fill="#fff"/>
<rect x="1145" y="366" width="6" height="6" fill="#0000ff"/>
<rect x="1147" y="368" width="2" height="2" fill="#fff"/>
<g id="panel">
<rect x="5" y="36" width="224" height="66" fill="#fff"/>
<rect x="5" y="43" width="1" height="1" fill="#ff0000"/>
<rect x="8" y="67" width="109" height="33" fill="#1414c4"/>
<rect x="9" y="68" width="107" height="31" fill="url(#gb)"/>
<rect x="119" y="67" width="108" height="33" fill="#1414c4"/>
<rect x="120" y="68" width="106" height="31" fill="url(#gb)"/>
<rect x="8" y="43" width="52" height="25" fill="#1414c4"/>
<rect x="9" y="44" width="50" height="24" fill="url(#gt)"/>
<rect x="175" y="43" width="52" height="25" fill="#1414c4"/>
<rect x="176" y="44" width="50" height="24" fill="url(#gt)"/>
<rect x="9" y="67" width="50" height="1" fill="#4040e4"/>
<rect x="176" y="67" width="50" height="1" fill="#4040e4"/>
<rect x="12" y="66" width="44" height="1" fill="#2c2cd0"/>
<rect x="179" y="66" width="44" height="1" fill="#2c2cd0"/>
<rect x="12" y="67" width="44" height="1" fill="#9c9cf8"/>
<rect x="179" y="67" width="44" height="1" fill="#9c9cf8"/>
<rect x="62" y="43" width="111" height="22" fill="#ababab"/>
<rect x="63" y="44" width="109" height="20" fill="#fff"/>
<rect x="64" y="45" width="18" height="6" fill="#ececec"/>
<rect x="64" y="51" width="18" height="12" fill="#dadada"/>
<rect x="153" y="45" width="18" height="6" fill="#ececec"/>
<rect x="153" y="51" width="18" height="12" fill="#dadada"/>
<rect x="83" y="44" width="1" height="20" fill="#ababab"/>
<rect x="151" y="44" width="1" height="20" fill="#ababab"/>
<path d="M69.7 52 L75.5 52 L72.6 55.2 Z" fill="#6278c4" shape-rendering="auto"/>
<path d="M158.6 55 L164.4 55 L161.5 51.6 Z" fill="#6278c4" shape-rendering="auto"/>
<g shape-rendering="auto">
<text x="20.3" y="59" font-size="12" fill="#e6e6ff" textLength="25.5" lengthAdjust="spacingAndGlyphs">SELL</text>
<text x="188.6" y="59" font-size="12" fill="#e6e6ff" textLength="22.4" lengthAdjust="spacingAndGlyphs">BUY</text>
<text x="148" y="58" font-size="12" fill="#111" text-anchor="end">3.00</text>
<text x="27.6" y="95" font-size="12" fill="#fff" textLength="24" lengthAdjust="spacingAndGlyphs" font-weight="bold">0.71</text>
<text x="137.6" y="95" font-size="12" fill="#fff" textLength="24" lengthAdjust="spacingAndGlyphs" font-weight="bold">0.71</text>
<text x="55.3" y="95" font-size="36" fill="#fff" textLength="35.6" lengthAdjust="spacingAndGlyphs" font-family='"Liberation Serif", serif'>89</text>
<text x="165.8" y="95" font-size="36" fill="#fff" textLength="35.6" lengthAdjust="spacingAndGlyphs" font-family='"Liberation Serif", serif'>91</text>
<text x="95.6" y="79" font-size="12" fill="#fff" font-weight="bold">5</text>
<text x="206.6" y="79" font-size="12" fill="#fff" font-weight="bold">5</text>
</g>
</g>
<g id="title" shape-rendering="auto">
<path d="M8 34.5 L15 34.5 L11.5 30.5 Z" fill="#000"/>
<text x="20.3" y="35" font-size="10" fill="#000" textLength="68.6" lengthAdjust="spacingAndGlyphs">AUDUSD-,Daily</text>
<text x="94.8" y="35" font-size="10" fill="#000" textLength="141" lengthAdjust="spacingAndGlyphs">0.71916 0.72165 0.71485 0.71895</text>
</g>
<g id="macd" clip-path="url(#cd)">
<rect x="4" y="401" width="3" height="3" fill="#c0c0c0"/>
<rect x="12" y="401" width="3" height="3" fill="#c0c0c0"/>
<rect x="20" y="401" width="3" height="1" fill="#c0c0c0"/>
<rect x="28" y="400" width="3" height="1" fill="#c0c0c0"/>
<rect x="36" y="397" width="3" height="4" fill="#c0c0c0"/>
<rect x="44" y="394" width="3" height="7" fill="#c0c0c0"/>
<rect x="52" y="392" width="3" height="9" fill="#c0c0c0"/>
<rect x="60" y="390" width="3" height="11" fill="#c0c0c0"/>
<rect x="68" y="389" width="3" height="12" fill="#c0c0c0"/>
<rect x="76" y="386" width="3" height="15" fill="#c0c0c0"/>
<rect x="84" y="385" width="3" height="16" fill="#c0c0c0"/>
<rect x="92" y="384" width="3" height="17" fill="#c0c0c0"/>
<rect x="100" y="383" width="3" height="18" fill="#c0c0c0"/>
<rect x="108" y="382" width="3" height="19" fill="#c0c0c0"/>
<rect x="116" y="381" width="3" height="20" fill="#c0c0c0"/>
<rect x="124" y="380" width="3" height="21" fill="#c0c0c0"/>
<rect x="132" y="380" width="3" height="21" fill="#c0c0c0"/>
<rect x="140" y="380" width="3" height="21" fill="#c0c0c0"/>
<rect x="148" y="379" width="3" height="22" fill="#c0c0c0"/>
<rect x="156" y="380" width="3" height="21" fill="#c0c0c0"/>
<rect x="164" y="380" width="3" height="21" fill="#c0c0c0"/>
<rect x="172" y="383" width="3" height="18" fill="#c0c0c0"/>
<rect x="180" y="385" width="3" height="16" fill="#c0c0c0"/>
<rect x="188" y="389" width="3" height="12" fill="#c0c0c0"/>
<rect x="196" y="392" width="3" height="9" fill="#c0c0c0"/>
<rect x="204" y="395" width="3" height="6" fill="#c0c0c0"/>
<rect x="212" y="396" width="3" height="5" fill="#c0c0c0"/>
<rect x="220" y="398" width="3" height="3" fill="#c0c0c0"/>
<rect x="228" y="401" width="3" height="2" fill="#c0c0c0"/>
<rect x="236" y="401" width="3" height="6" fill="#c0c0c0"/>
<rect x="244" y="401" width="3" height="8" fill="#c0c0c0"/>
<rect x="252" y="401" width="3" height="9" fill="#c0c0c0"/>
<rect x="260" y="401" width="3" height="10" fill="#c0c0c0"/>
<rect x="268" y="401" width="3" height="11" fill="#c0c0c0"/>
<rect x="276" y="401" width="3" height="14" fill="#c0c0c0"/>
<rect x="284" y="401" width="3" height="15" fill="#c0c0c0"/>
<rect x="292" y="401" width="3" height="17" fill="#c0c0c0"/>
<rect x="300" y="401" width="3" height="19" fill="#c0c0c0"/>
<rect x="308" y="401" width="3" height="20" fill="#c0c0c0"/>
<rect x="316" y="401" width="3" height="21" fill="#c0c0c0"/>
<rect x="324" y="401" width="3" height="22" fill="#c0c0c0"/>
<rect x="332" y="401" width="3" height="24" fill="#c0c0c0"/>
<rect x="340" y="401" width="3" height="27" fill="#c0c0c0"/>
<rect x="348" y="401" width="3" height="28" fill="#c0c0c0"/>
<rect x="356" y="401" width="3" height="28" fill="#c0c0c0"/>
<rect x="364" y="401" width="3" height="29" fill="#c0c0c0"/>
<rect x="372" y="401" width="3" height="30" fill="#c0c0c0"/>
<rect x="380" y="401" width="3" height="31" fill="#c0c0c0"/>
<rect x="388" y="401" width="3" height="34" fill="#c0c0c0"/>
<rect x="396" y="401" width="3" height="35" fill="#c0c0c0"/>
<rect x="404" y="401" width="3" height="35" fill="#c0c0c0"/>
<rect x="412" y="401" width="3" height="33" fill="#c0c0c0"/>
<rect x="420" y="401" width="3" height="29" fill="#c0c0c0"/>
<rect x="428" y="401" width="3" height="26" fill="#c0c0c0"/>
<rect x="436" y="401" width="3" height="23" fill="#c0c0c0"/>
<rect x="444" y="401" width="3" height="20" fill="#c0c0c0"/>
<rect x="452" y="401" width="3" height="19" fill="#c0c0c0"/>
<rect x="460" y="401" width="3" height="18" fill="#c0c0c0"/>
<rect x="468" y="401" width="3" height="16" fill="#c0c0c0"/>
<rect x="476" y="401" width="3" height="14" fill="#c0c0c0"/>
<rect x="484" y="401" width="3" height="13" fill="#c0c0c0"/>
<rect x="492" y="401" width="3" height="13" fill="#c0c0c0"/>
<rect x="500" y="401" width="3" height="13" fill="#c0c0c0"/>
<rect x="508" y="401" width="3" height="12" fill="#c0c0c0"/>
<rect x="516" y="401" width="3" height="9" fill="#c0c0c0"/>
<rect x="524" y="401" width="3" height="5" fill="#c0c0c0"/>
<rect x="532" y="401" width="3" height="3" fill="#c0c0c0"/>
<rect x="540" y="401" width="3" height="1" fill="#c0c0c0"/>
<rect x="548" y="399" width="3" height="2" fill="#c0c0c0"/>
<rect x="556" y="398" width="3" height="3" fill="#c0c0c0"/>
<rect x="564" y="396" width="3" height="5" fill="#c0c0c0"/>
<rect x="572" y="395" width="3" height="6" fill="#c0c0c0"/>
<rect x="580" y="394" width="3" height="7" fill="#c0c0c0"/>
<rect x="588" y="393" width="3" height="8" fill="#c0c0c0"/>
<rect x="596" y="394" width="3" height="7" fill="#c0c0c0"/>
<rect x="604" y="394" width="3" height="7" fill="#c0c0c0"/>
<rect x="612" y="395" width="3" height="6" fill="#c0c0c0"/>
<rect x="620" y="398" width="3" height="3" fill="#c0c0c0"/>
<rect x="628" y="399" width="3" height="2" fill="#c0c0c0"/>
<rect x="636" y="400" width="3" height="1" fill="#c0c0c0"/>
<rect x="644" y="401" width="3" height="1" fill="#c0c0c0"/>
<rect x="652" y="401" width="3" height="1" fill="#c0c0c0"/>
<rect x="660" y="398" width="3" height="3" fill="#c0c0c0"/>
<rect x="668" y="396" width="3" height="5" fill="#c0c0c0"/>
<rect x="676" y="397" width="3" height="4" fill="#c0c0c0"/>
<rect x="684" y="398" width="3" height="3" fill="#c0c0c0"/>
<rect x="692" y="398" width="3" height="3" fill="#c0c0c0"/>
<rect x="700" y="399" width="3" height="2" fill="#c0c0c0"/>
<rect x="708" y="399" width="3" height="2" fill="#c0c0c0"/>
<rect x="716" y="399" width="3" height="2" fill="#c0c0c0"/>
<rect x="724" y="401" width="3" height="1" fill="#c0c0c0"/>
<rect x="732" y="401" width="3" height="2" fill="#c0c0c0"/>
<rect x="740" y="401" width="3" height="4" fill="#c0c0c0"/>
<rect x="748" y="401" width="3" height="5" fill="#c0c0c0"/>
<rect x="756" y="401" width="3" height="7" fill="#c0c0c0"/>
<rect x="764" y="401" width="3" height="11" fill="#c0c0c0"/>
<rect x="772" y="401" width="3" height="16" fill="#c0c0c0"/>
<rect x="780" y="401" width="3" height="19" fill="#c0c0c0"/>
<rect x="788" y="401" width="3" height="19" fill="#c0c0c0"/>
<rect x="796" y="401" width="3" height="17" fill="#c0c0c0"/>
<rect x="804" y="401" width="3" height="15" fill="#c0c0c0"/>
<rect x="812" y="401" width="3" height="14" fill="#c0c0c0"/>
<rect x="820" y="401" width="3" height="14" fill="#c0c0c0"/>
<rect x="828" y="401" width="3" height="14" fill="#c0c0c0"/>
<rect x="836" y="401" width="3" height="12" fill="#c0c0c0"/>
<rect x="844" y="401" width="3" height="10" fill="#c0c0c0"/>
<rect x="852" y="401" width="3" height="8" fill="#c0c0c0"/>
<rect x="860" y="401" width="3" height="6" fill="#c0c0c0"/>
<rect x="868" y="401" width="3" height="6" fill="#c0c0c0"/>
<rect x="876" y="401" width="3" height="5" fill="#c0c0c0"/>
<rect x="884" y="401" width="3" height="5" fill="#c0c0c0"/>
<rect x="892" y="401" width="3" height="4" fill="#c0c0c0"/>
<rect x="900" y="401" width="3" height="2" fill="#c0c0c0"/>
<rect x="908" y="400" width="3" height="1" fill="#c0c0c0"/>
<path d="M146 381h43v1h-43zM134 382h12v1h-12zM189 382h5v1h-5zM127 383h7v1h-7zM194 383h6v1h-6zM120 384h7v1h-7zM200 384h5v1h-5zM113 385h7v1h-7zM205 385h4v1h-4zM109 386h4v1h-4zM209 386h4v1h-4zM104 387h5v1h-5zM213 387h4v1h-4zM99 388h5v1h-5zM217 388h4v1h-4zM95 389h4v1h-4zM221 389h4v1h-4zM92 390h3v1h-3zM225 390h5v1h-5zM89 391h3v1h-3zM230 391h2v1h-2zM86 392h3v1h-3zM232 392h3v1h-3zM83 393h3v1h-3zM235 393h2v1h-2zM80 394h3v1h-3zM237 394h3v1h-3zM77 395h3v1h-3zM240 395h3v1h-3zM607 395h33v1h-33zM72 396h5v1h-5zM243 396h2v1h-2zM599 396h8v1h-8zM640 396h13v1h-13zM68 397h4v1h-4zM245 397h3v1h-3zM594 397h5v1h-5zM653 397h5v1h-5zM63 398h5v1h-5zM248 398h3v1h-3zM589 398h5v1h-5zM658 398h27v1h-27zM58 399h5v1h-5zM251 399h3v1h-3zM583 399h6v1h-6zM685 399h55v1h-55zM54 400h4v1h-4zM254 400h3v1h-3zM578 400h5v1h-5zM740 400h10v1h-10zM49 401h5v1h-5zM257 401h3v1h-3zM574 401h4v1h-4zM750 401h8v1h-8zM44 402h5v1h-5zM260 402h4v1h-4zM569 402h5v1h-5zM758 402h5v1h-5zM38 403h6v1h-6zM264 403h3v1h-3zM565 403h4v1h-4zM763 403h5v1h-5zM32 404h6v1h-6zM267 404h4v1h-4zM560 404h5v1h-5zM768 404h4v1h-4zM26 405h6v1h-6zM271 405h4v1h-4zM556 405h4v1h-4zM772 405h4v1h-4zM904 405h5v1h-5zM20 406h6v1h-6zM275 406h4v1h-4zM551 406h5v1h-5zM776 406h4v1h-4zM898 406h6v1h-6zM14 407h6v1h-6zM279 407h4v1h-4zM547 407h4v1h-4zM780 407h4v1h-4zM892 407h6v1h-6zM9 408h5v1h-5zM283 408h4v1h-4zM542 408h5v1h-5zM784 408h4v1h-4zM886 408h6v1h-6zM5 409h4v1h-4zM287 409h4v1h-4zM538 409h4v1h-4zM788 409h4v1h-4zM879 409h7v1h-7zM291 410h5v1h-5zM533 410h5v1h-5zM792 410h4v1h-4zM872 410h7v1h-7zM296 411h5v1h-5zM529 411h4v1h-4zM796 411h4v1h-4zM866 411h6v1h-6zM301 412h5v1h-5zM524 412h5v1h-5zM800 412h4v1h-4zM860 412h6v1h-6zM306 413h5v1h-5zM519 413h5v1h-5zM804 413h6v1h-6zM853 413h7v1h-7zM311 414h5v1h-5zM513 414h6v1h-6zM810 414h7v1h-7zM847 414h6v1h-6zM316 415h5v1h-5zM506 415h7v1h-7zM817 415h18v1h-18zM840 415h7v1h-7zM321 416h5v1h-5zM500 416h6v1h-6zM835 416h5v1h-5zM326 417h4v1h-4zM494 417h6v1h-6zM330 418h5v1h-5zM488 418h6v1h-6zM335 419h4v1h-4zM485 419h3v1h-3zM339 420h5v1h-5zM481 420h4v1h-4zM344 421h4v1h-4zM477 421h4v1h-4zM348 422h5v1h-5zM473 422h4v1h-4zM353 423h6v1h-6zM469 423h4v1h-4zM359 424h6v1h-6zM465 424h4v1h-4zM365 425h6v1h-6zM461 425h4v1h-4zM371 426h6v1h-6zM457 426h4v1h-4zM377 427h6v1h-6zM452 427h5v1h-5zM383 428h7v1h-7zM447 428h5v1h-5zM390 429h6v1h-6zM441 429h6v1h-6zM396 430h8v1h-8zM434 430h7v1h-7zM404 431h8v1h-8zM426 431h8v1h-8zM412 432h14v1h-14z" fill="#ff0000"/>
</g>
<g shape-rendering="auto">
<text x="9.3" y="388" font-size="10" fill="#000" textLength="151" lengthAdjust="spacingAndGlyphs">MACD(12,26,9) 0.000311 -0.000868</text>
</g>
<g id="rsi" clip-path="url(#cr)">
<line x1="7" y1="462.5" x2="1151" y2="462.5" stroke="#c0c0c0" stroke-width="1" stroke-dasharray="3,3"/>
<line x1="7" y1="487.5" x2="1151" y2="487.5" stroke="#c0c0c0" stroke-width="1" stroke-dasharray="3,3"/>
<path d="M82 460h4v1h-4zM79 461h3v1h-3zM86 461h2v1h-2zM76 462h3v1h-3zM88 462h1v1h-1zM139 462h8v1h-8zM74 463h2v1h-2zM89 463h1v1h-1zM119 463h11v1h-11zM135 463h4v1h-4zM147 463h8v1h-8zM56 464h9v1h-9zM72 464h2v1h-2zM90 464h2v1h-2zM111 464h8v1h-8zM130 464h5v1h-5zM155 464h11v1h-11zM43 465h13v1h-13zM65 465h3v1h-3zM70 465h2v1h-2zM92 465h1v1h-1zM104 465h7v1h-7zM166 465h1v1h-1zM40 466h3v1h-3zM68 466h2v1h-2zM93 466h11v1h-11zM166 466h1v1h-1zM36 467h4v1h-4zM167 467h1v1h-1zM578 467h12v1h-12zM34 468h3v1h-3zM168 468h1v1h-1zM563 468h8v1h-8zM574 468h4v1h-4zM590 468h1v1h-1zM660 468h10v1h-10zM21 469h4v1h-4zM32 469h2v1h-2zM169 469h1v1h-1zM544 469h10v1h-10zM559 469h4v1h-4zM571 469h3v1h-3zM591 469h1v1h-1zM659 469h1v1h-1zM670 469h1v1h-1zM19 470h2v1h-2zM25 470h2v1h-2zM30 470h2v1h-2zM170 470h1v1h-1zM520 470h24v1h-24zM554 470h5v1h-5zM592 470h1v1h-1zM658 470h1v1h-1zM671 470h1v1h-1zM17 471h2v1h-2zM27 471h3v1h-3zM171 471h1v1h-1zM179 471h3v1h-3zM517 471h3v1h-3zM593 471h1v1h-1zM656 471h2v1h-2zM672 471h1v1h-1zM900 471h9v1h-9zM5 472h3v1h-3zM16 472h1v1h-1zM172 472h1v1h-1zM177 472h2v1h-2zM182 472h2v1h-2zM515 472h2v1h-2zM594 472h1v1h-1zM603 472h8v1h-8zM655 472h1v1h-1zM673 472h2v1h-2zM851 472h8v1h-8zM898 472h2v1h-2zM8 473h3v1h-3zM14 473h2v1h-2zM172 473h1v1h-1zM175 473h2v1h-2zM184 473h1v1h-1zM514 473h1v1h-1zM595 473h1v1h-1zM601 473h2v1h-2zM611 473h3v1h-3zM654 473h1v1h-1zM675 473h1v1h-1zM848 473h3v1h-3zM859 473h4v1h-4zM895 473h3v1h-3zM11 474h3v1h-3zM173 474h2v1h-2zM185 474h2v1h-2zM512 474h2v1h-2zM596 474h1v1h-1zM599 474h2v1h-2zM614 474h2v1h-2zM652 474h2v1h-2zM676 474h1v1h-1zM681 474h9v1h-9zM708 474h11v1h-11zM842 474h6v1h-6zM863 474h3v1h-3zM876 474h7v1h-7zM890 474h5v1h-5zM187 475h1v1h-1zM468 475h11v1h-11zM511 475h1v1h-1zM597 475h2v1h-2zM616 475h2v1h-2zM650 475h2v1h-2zM677 475h4v1h-4zM690 475h4v1h-4zM705 475h3v1h-3zM719 475h2v1h-2zM810 475h5v1h-5zM836 475h6v1h-6zM866 475h2v1h-2zM872 475h4v1h-4zM883 475h7v1h-7zM188 476h2v1h-2zM210 476h5v1h-5zM419 476h5v1h-5zM434 476h14v1h-14zM467 476h1v1h-1zM479 476h2v1h-2zM508 476h3v1h-3zM618 476h2v1h-2zM626 476h8v1h-8zM647 476h3v1h-3zM694 476h4v1h-4zM703 476h2v1h-2zM721 476h2v1h-2zM731 476h5v1h-5zM797 476h13v1h-13zM815 476h2v1h-2zM834 476h2v1h-2zM868 476h4v1h-4zM190 477h4v1h-4zM207 477h3v1h-3zM215 477h3v1h-3zM417 477h2v1h-2zM424 477h4v1h-4zM430 477h4v1h-4zM448 477h2v1h-2zM466 477h1v1h-1zM481 477h3v1h-3zM506 477h2v1h-2zM620 477h1v1h-1zM623 477h3v1h-3zM634 477h13v1h-13zM698 477h5v1h-5zM723 477h3v1h-3zM727 477h4v1h-4zM736 477h2v1h-2zM795 477h2v1h-2zM817 477h2v1h-2zM832 477h2v1h-2zM194 478h13v1h-13zM218 478h2v1h-2zM415 478h2v1h-2zM428 478h2v1h-2zM450 478h3v1h-3zM465 478h1v1h-1zM484 478h4v1h-4zM504 478h2v1h-2zM621 478h2v1h-2zM726 478h1v1h-1zM738 478h3v1h-3zM793 478h2v1h-2zM819 478h2v1h-2zM830 478h2v1h-2zM220 479h3v1h-3zM256 479h7v1h-7zM413 479h2v1h-2zM453 479h3v1h-3zM463 479h2v1h-2zM488 479h16v1h-16zM741 479h10v1h-10zM791 479h2v1h-2zM821 479h9v1h-9zM223 480h3v1h-3zM249 480h7v1h-7zM263 480h3v1h-3zM413 480h1v1h-1zM456 480h3v1h-3zM462 480h1v1h-1zM751 480h3v1h-3zM790 480h1v1h-1zM226 481h3v1h-3zM244 481h5v1h-5zM266 481h3v1h-3zM412 481h1v1h-1zM459 481h3v1h-3zM754 481h2v1h-2zM788 481h2v1h-2zM229 482h3v1h-3zM242 482h2v1h-2zM269 482h4v1h-4zM410 482h2v1h-2zM756 482h2v1h-2zM787 482h1v1h-1zM232 483h2v1h-2zM240 483h2v1h-2zM273 483h4v1h-4zM279 483h7v1h-7zM409 483h1v1h-1zM758 483h2v1h-2zM786 483h1v1h-1zM234 484h2v1h-2zM238 484h2v1h-2zM277 484h2v1h-2zM286 484h3v1h-3zM408 484h1v1h-1zM760 484h1v1h-1zM785 484h1v1h-1zM236 485h2v1h-2zM289 485h3v1h-3zM407 485h1v1h-1zM761 485h2v1h-2zM784 485h1v1h-1zM292 486h24v1h-24zM406 486h1v1h-1zM763 486h2v1h-2zM783 486h1v1h-1zM316 487h7v1h-7zM405 487h1v1h-1zM765 487h4v1h-4zM782 487h1v1h-1zM323 488h5v1h-5zM352 488h13v1h-13zM403 488h2v1h-2zM769 488h4v1h-4zM776 488h6v1h-6zM328 489h4v1h-4zM349 489h3v1h-3zM365 489h7v1h-7zM401 489h2v1h-2zM773 489h3v1h-3zM332 490h3v1h-3zM346 490h3v1h-3zM372 490h7v1h-7zM399 490h2v1h-2zM335 491h4v1h-4zM343 491h3v1h-3zM379 491h3v1h-3zM397 491h2v1h-2zM339 492h4v1h-4zM382 492h3v1h-3zM395 492h2v1h-2zM385 493h2v1h-2zM393 493h2v1h-2zM387 494h2v1h-2zM390 494h3v1h-3zM389 495h1v1h-1z" fill="#1e90ff"/>
</g>
<g shape-rendering="auto">
<text x="9.3" y="454" font-size="10" fill="#000" textLength="68" lengthAdjust="spacingAndGlyphs">RSI(14) 55.9558</text>
</g>
<g id="axis">
<g shape-rendering="auto">
<rect x="1152" y="40" width="2" height="1" fill="#000"/>
<rect x="1152" y="73" width="2" height="1" fill="#000"/>
<text x="1157" y="77" font-size="10" fill="#000" textLength="32.5" lengthAdjust="spacingAndGlyphs">0.74965</text>
<rect x="1152" y="106" width="2" height="1" fill="#000"/>
<text x="1157" y="110" font-size="10" fill="#000" textLength="32.5" lengthAdjust="spacingAndGlyphs">0.74365</text>
<rect x="1152" y="139" width="2" height="1" fill="#000"/>
<text x="1157" y="143" font-size="10" fill="#000" textLength="32.5" lengthAdjust="spacingAndGlyphs">0.73765</text>
<rect x="1152" y="172" width="2" height="1" fill="#000"/>
<text x="1157" y="176" font-size="10" fill="#000" textLength="32.5" lengthAdjust="spacingAndGlyphs">0.73165</text>
<rect x="1152" y="205" width="2" height="1" fill="#000"/>
<rect x="1152" y="238" width="2" height="1" fill="#000"/>
<text x="1157" y="242" font-size="10" fill="#000" textLength="32.5" lengthAdjust="spacingAndGlyphs">0.71965</text>
<rect x="1152" y="271" width="2" height="1" fill="#000"/>
<text x="1157" y="275" font-size="10" fill="#000" textLength="32.5" lengthAdjust="spacingAndGlyphs">0.71365</text>
<rect x="1152" y="304" width="2" height="1" fill="#000"/>
<text x="1157" y="308" font-size="10" fill="#000" textLength="32.5" lengthAdjust="spacingAndGlyphs">0.70765</text>
<rect x="1152" y="337" width="2" height="1" fill="#000"/>
<text x="1157" y="341" font-size="10" fill="#000" textLength="32.5" lengthAdjust="spacingAndGlyphs">0.70165</text>
<text x="1155" y="386" font-size="10" fill="#000" textLength="37.5" lengthAdjust="spacingAndGlyphs">0.006201</text>
<rect x="1152" y="401" width="2" height="1" fill="#000"/>
<text x="1155" y="405" font-size="10" fill="#000" textLength="17.5" lengthAdjust="spacingAndGlyphs">0.00</text>
<text x="1155" y="436" font-size="10" fill="#000" textLength="40.5" lengthAdjust="spacingAndGlyphs">-0.009197</text>
<text x="1155" y="452" font-size="10" fill="#000" textLength="15.0" lengthAdjust="spacingAndGlyphs">100</text>
<rect x="1152" y="462" width="2" height="1" fill="#000"/>
<text x="1155" y="466" font-size="10" fill="#000" textLength="10.0" lengthAdjust="spacingAndGlyphs">70</text>
<rect x="1152" y="487" width="2" height="1" fill="#000"/>
<text x="1155" y="491" font-size="10" fill="#000" textLength="10.0" lengthAdjust="spacingAndGlyphs">30</text>
<text x="1155" y="504" font-size="10" fill="#000" textLength="5.0" lengthAdjust="spacingAndGlyphs">0</text>
</g>
<rect x="1153" y="37" width="41" height="11" fill="#ff0000"/>
<g shape-rendering="auto">
<text x="1157.5" y="46" font-size="10" fill="#fff" textLength="32.5" lengthAdjust="spacingAndGlyphs">0.75512</text>
</g>
<rect x="1153" y="120" width="41" height="11" fill="#ff0000"/>
<g shape-rendering="auto">
<text x="1157.5" y="129" font-size="10" fill="#fff" textLength="32.5" lengthAdjust="spacingAndGlyphs">0.74002</text>
</g>
<rect x="1153" y="202" width="41" height="11" fill="#ff0000"/>
<g shape-rendering="auto">
<text x="1157.5" y="211" font-size="10" fill="#fff" textLength="32.5" lengthAdjust="spacingAndGlyphs">0.72508</text>
</g>
<rect x="1153" y="237" width="41" height="11" fill="#000"/>
<g shape-rendering="auto">
<text x="1157.5" y="246" font-size="10" fill="#fff" textLength="32.5" lengthAdjust="spacingAndGlyphs">0.71895</text>
</g>
<rect x="1153" y="284" width="41" height="11" fill="#00ff00"/>
<g shape-rendering="auto">
<text x="1157.5" y="293" font-size="10" fill="#fff" textLength="32.5" lengthAdjust="spacingAndGlyphs">0.71013</text>
</g>
<rect x="1153" y="363" width="41" height="11" fill="#0000ff"/>
<g shape-rendering="auto">
<text x="1157.5" y="372" font-size="10" fill="#fff" textLength="32.5" lengthAdjust="spacingAndGlyphs">0.69592</text>
</g>
</g>
<g id="time" shape-rendering="auto">
<rect x="5" y="508" width="1" height="3" fill="#000" shape-rendering="crispEdges"/>
<text x="4" y="520" font-size="10" fill="#000" textLength="46.0" lengthAdjust="spacingAndGlyphs">8 Oct 2021</text>
<rect x="69" y="508" width="1" height="3" fill="#000" shape-rendering="crispEdges"/>
<text x="68" y="520" font-size="10" fill="#000" textLength="51.2" lengthAdjust="spacingAndGlyphs">18 Oct 2021</text>
<rect x="133" y="508" width="1" height="3" fill="#000" shape-rendering="crispEdges"/>
<text x="132" y="520" font-size="10" fill="#000" textLength="51.2" lengthAdjust="spacingAndGlyphs">27 Oct 2021</text>
<rect x="197" y="508" width="1" height="3" fill="#000" shape-rendering="crispEdges"/>
<text x="196" y="520" font-size="10" fill="#000" textLength="48.1" lengthAdjust="spacingAndGlyphs">5 Nov 2021</text>
<rect x="261" y="508" width="1" height="3" fill="#000" shape-rendering="crispEdges"/>
<text x="260" y="520" font-size="10" fill="#000" textLength="53.3" lengthAdjust="spacingAndGlyphs">15 Nov 2021</text>
<rect x="325" y="508" width="1" height="3" fill="#000" shape-rendering="crispEdges"/>
<text x="324" y="520" font-size="10" fill="#000" textLength="53.3" lengthAdjust="spacingAndGlyphs">24 Nov 2021</text>
<rect x="389" y="508" width="1" height="3" fill="#000" shape-rendering="crispEdges"/>
<text x="388" y="520" font-size="10" fill="#000" textLength="46.7" lengthAdjust="spacingAndGlyphs">3 Dec 2021</text>
<rect x="453" y="508" width="1" height="3" fill="#000" shape-rendering="crispEdges"/>
<text x="452" y="520" font-size="10" fill="#000" textLength="51.8" lengthAdjust="spacingAndGlyphs">13 Dec 2021</text>
<rect x="517" y="508" width="1" height="3" fill="#000" shape-rendering="crispEdges"/>
<text x="516" y="520" font-size="10" fill="#000" textLength="51.8" lengthAdjust="spacingAndGlyphs">22 Dec 2021</text>
<rect x="581" y="508" width="1" height="3" fill="#000" shape-rendering="crispEdges"/>
<text x="580" y="520" font-size="10" fill="#000" textLength="51.8" lengthAdjust="spacingAndGlyphs">31 Dec 2021</text>
<rect x="645" y="508" width="1" height="3" fill="#000" shape-rendering="crispEdges"/>
<text x="644" y="520" font-size="10" fill="#000" textLength="49.8" lengthAdjust="spacingAndGlyphs">10 Jan 2022</text>
<rect x="709" y="508" width="1" height="3" fill="#000" shape-rendering="crispEdges"/>
<text x="708" y="520" font-size="10" fill="#000" textLength="49.8" lengthAdjust="spacingAndGlyphs">19 Jan 2022</text>
<rect x="773" y="508" width="1" height="3" fill="#000" shape-rendering="crispEdges"/>
<text x="772" y="520" font-size="10" fill="#000" textLength="49.8" lengthAdjust="spacingAndGlyphs">28 Jan 2022</text>
<rect x="837" y="508" width="1" height="3" fill="#000" shape-rendering="crispEdges"/>
<text x="836" y="520" font-size="10" fill="#000" textLength="46.9" lengthAdjust="spacingAndGlyphs">7 Feb 2022</text>
<rect x="901" y="508" width="1" height="3" fill="#000" shape-rendering="crispEdges"/>
<text x="900" y="520" font-size="10" fill="#000" textLength="52.1" lengthAdjust="spacingAndGlyphs">16 Feb 2022</text>
</g>
</svg>
</body></html>
